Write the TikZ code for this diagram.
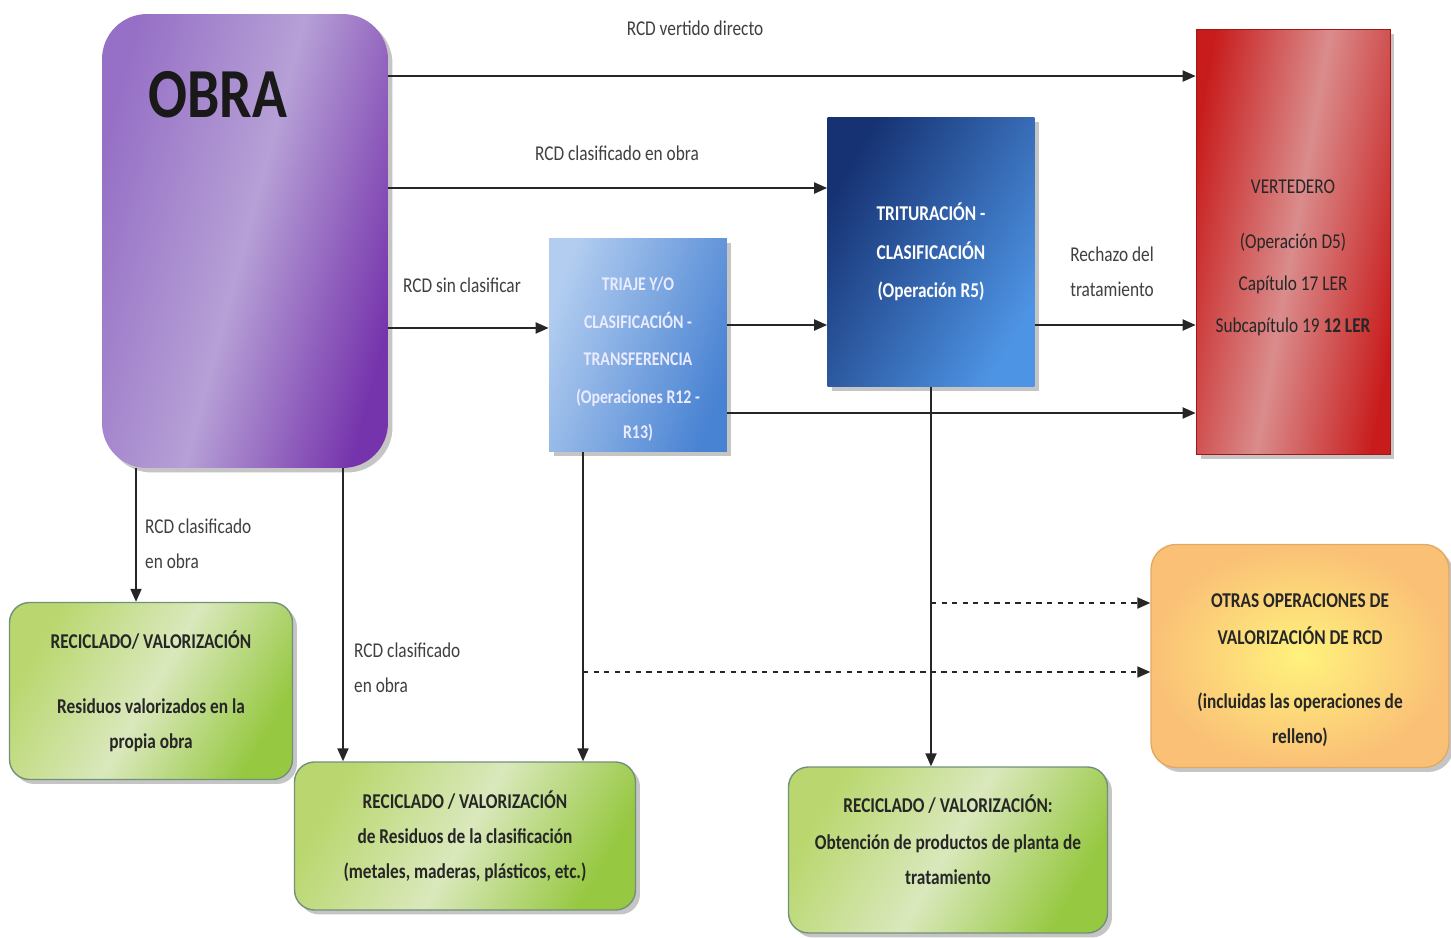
\documentclass[tikz,border=0pt]{standalone}
\usepackage{fontspec}
\setmainfont{Carlito}[FakeStretch=0.82]
\usetikzlibrary{arrows.meta,shadows}

\definecolor{obraLight}{RGB}{182,160,214}
\definecolor{obraEdge}{RGB}{150,112,198}
\definecolor{obraDark}{RGB}{118,52,172}
\definecolor{vertEdge}{RGB}{200,28,28}
\definecolor{vertMid}{RGB}{218,140,140}
\definecolor{tritDark}{RGB}{22,50,115}
\definecolor{tritLight}{RGB}{78,148,228}
\definecolor{triaLight}{RGB}{178,205,240}
\definecolor{triaDark}{RGB}{72,130,210}
\definecolor{recEdge}{RGB}{150,200,65}
\definecolor{recTop}{RGB}{185,215,110}
\definecolor{recMid}{RGB}{218,232,188}
\definecolor{recLine}{RGB}{115,145,120}
\definecolor{otrIn}{RGB}{255,242,125}
\definecolor{otrOut}{RGB}{250,192,118}
\definecolor{otrLine}{RGB}{225,170,100}

\newcommand{\padtop}[1]{\rule{0pt}{#1}}

\begin{document}
\begin{tikzpicture}[
    x=0.02cm, y=-0.02cm,
    flow/.style={draw=black!85, line width=1.1pt, -{Triangle[length=2.6mm,width=2.2mm]}},
    dashflow/.style={flow, dashed},
    note/.style={font=\fontsize{12}{20}\selectfont, text=black!75, align=center},
    boxshadow/.style={drop shadow={shadow xshift=0.09cm, shadow yshift=-0.09cm, opacity=0.45}},
    obrabox/.style={rectangle, rounded corners=0.9cm, boxshadow, left color=obraEdge, right color=obraDark, middle color=obraLight, shading angle=75, minimum width=5.72cm, minimum height=9.08cm},
    vertbox/.style={rectangle, draw=vertEdge!80!black, boxshadow, left color=vertEdge, right color=vertEdge, middle color=vertMid, shading angle=80, minimum width=3.88cm, minimum height=8.5cm, align=center, text=black!85, font=\fontsize{12}{20}\selectfont},
    tritbox/.style={rectangle, boxshadow, left color=tritDark, right color=tritLight, shading angle=60, minimum width=4.14cm, minimum height=5.4cm, align=center, text=white, font=\fontsize{12}{20}\selectfont\bfseries},
    triabox/.style={rectangle, boxshadow, left color=triaLight, right color=triaDark, shading angle=70, minimum width=3.56cm, minimum height=4.28cm, align=center, text=white!92!blue, font=\fontsize{11}{20}\selectfont\bfseries},
    recbox/.style={rectangle, rounded corners=0.4cm, draw=recLine, thick, boxshadow, left color=recTop, right color=recEdge, middle color=recMid, shading angle=60, align=center, text=black!85, font=\fontsize{12}{20}\selectfont\bfseries},
    otrbox/.style={rectangle, rounded corners=0.5cm, draw=otrLine, thick, boxshadow, inner color=otrIn, outer color=otrOut, minimum width=5.96cm, minimum height=4.46cm, align=center, text=black!85, font=\fontsize{12}{20}\selectfont\bfseries}
]

\useasboundingbox[fill=white] (0,0) rectangle (1451,937);

% Source
\node[obrabox] (obra) at (245,241) {};
\node[font=\fontsize{40}{40}\selectfont\bfseries, text=black!90] (obratxt) at (218,95) {OBRA};

% Treatment plants
\node[triabox] (triaje) at (638,345) {\padtop{24pt}TRIAJE Y/O\\[1.5pt]CLASIFICACIÓN -\\[1.5pt]TRANSFERENCIA\\[1.5pt](Operaciones R12 -\\R13)};
\node[tritbox] (trit) at (931,252) {TRITURACIÓN -\\[2pt]CLASIFICACIÓN\\[2pt](Operación R5)};

% Landfill
\node[vertbox] (verte) at (1293,242) {\padtop{26pt}VERTEDERO\\[11pt](Operación D5)\\[4pt]Capítulo 17 LER\\[4pt]Subcapítulo 19 \textbf{12 LER}};

% Recycling / recovery
\node[recbox, minimum width=5.66cm, minimum height=3.54cm] (rec1) at (151,691) {RECICLADO/ VALORIZACIÓN\\[17pt]Residuos valorizados en la\\propia obra};
\node[recbox, minimum width=6.82cm, minimum height=2.96cm] (rec2) at (465,836) {RECICLADO / VALORIZACIÓN\\de Residuos de la clasificación\\(metales, maderas, plásticos, etc.)};
\node[recbox, minimum width=6.38cm, minimum height=3.32cm] (rec3) at (948,850) {RECICLADO / VALORIZACIÓN:\\[1pt]Obtención de productos de planta de\\tratamiento\\[-8pt]\mbox{}};
\node[otrbox] (otras) at (1300,656) {\padtop{24pt}OTRAS OPERACIONES DE\\[1pt]VALORIZACIÓN DE RCD\\[16pt](incluidas las operaciones de\\relleno)};

% Connector points
\coordinate (vd) at ([yshift=3.3cm]obra.east);
\coordinate (co) at ([yshift=1.06cm]obra.east);
\coordinate (sc) at ([yshift=-1.74cm]obra.east);
\coordinate (tt) at ([yshift=0.4cm]triaje.east);
\coordinate (tv) at ([yshift=-1.36cm]triaje.east);
\coordinate (ob1) at ([xshift=-2.18cm]obra.south);
\coordinate (ob2) at ([xshift=1.96cm]obra.south);
\coordinate (tb) at ([xshift=-1.1cm]triaje.south);
\coordinate (d1) at ([yshift=1.06cm]otras.west);
\coordinate (d2) at ([yshift=-0.32cm]otras.west);

% Flows
\draw[flow] (vd) -- (verte.west |- vd);
\draw[flow] (co) -- (trit.west |- co);
\draw[flow] (sc) -- (triaje.west |- sc);
\draw[flow] (tt) -- (trit.west |- tt);
\draw[flow] (tv) -- (verte.west |- tv);
\draw[flow] (trit.east |- tt) -- (verte.west |- tt);
\draw[flow] (ob1) -- (ob1 |- rec1.north);
\draw[flow] (ob2) -- (ob2 |- rec2.north);
\draw[flow] (tb) -- (tb |- rec2.north);
\draw[flow] (trit.south) -- (trit.south |- rec3.north);
\draw[dashflow] (trit.south |- d1) -- (d1);
\draw[dashflow] (tb |- d2) -- (d2);

% Flow labels
\node[note] (lvd) at (695,28) {RCD vertido directo};
\node[note] (lco) at (617,153) {RCD clasificado en obra};
\node[note] (lsc) at (462,285) {RCD sin clasificar};
\node[note] (lre) at (1112,272) {Rechazo del\\tratamiento};
\node[note, anchor=west, align=left] (lob1) at (139,544) {RCD clasificado\\en obra};
\node[note, anchor=west, align=left] (lob2) at (348,668) {RCD clasificado\\en obra};

\end{tikzpicture}
\end{document}
